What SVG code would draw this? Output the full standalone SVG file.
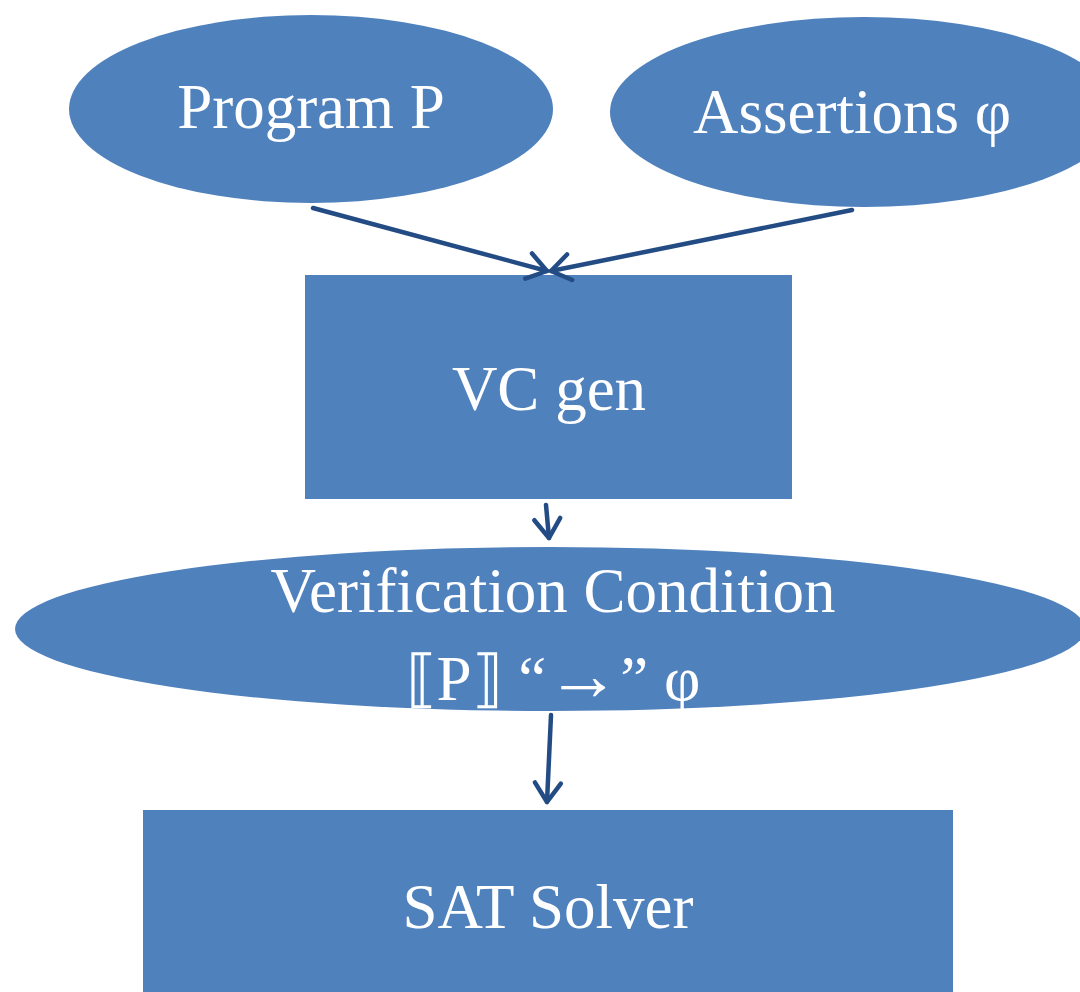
<svg xmlns="http://www.w3.org/2000/svg" width="1080" height="992" viewBox="0 0 1080 992">
  <style>
    .shape { fill: #4F81BD; }
    .label { fill: #FFFFFF; font-family: "Liberation Serif", "DejaVu Serif", serif; font-size: 63px; text-anchor: middle; }
    .edge { stroke: #244C84; stroke-width: 4.5; fill: none; stroke-linecap: round; }
  </style>
  <defs>
    <marker id="chevron" markerUnits="userSpaceOnUse" viewBox="-24 -18 28 36" markerWidth="28" markerHeight="36" refX="0" refY="0" orient="auto">
      <path d="M -19 -13 L 0 0 L -19 13" fill="none" stroke="#244C84" stroke-width="4.5" stroke-linecap="round" stroke-linejoin="round"/>
    </marker>
  </defs>
  <rect width="1080" height="992" fill="#FFFFFF"/>

  <g id="program">
    <ellipse class="shape" cx="311" cy="109" rx="242" ry="94"/>
    <text class="label" x="311" y="128">Program P</text>
  </g>

  <g id="assertions">
    <ellipse class="shape" cx="864" cy="112" rx="254" ry="95"/>
    <text class="label" x="852" y="133">Assertions φ</text>
  </g>

  <g id="vcgen">
    <rect class="shape" x="305" y="275" width="487" height="224"/>
    <text class="label" x="549" y="410">VC gen</text>
  </g>

  <g id="condition">
    <ellipse class="shape" cx="550" cy="629" rx="535" ry="82"/>
    <text class="label" x="553" y="612">Verification Condition</text>
    <text class="label" x="553" y="700">⟦P⟧ “<tspan font-size="74px">→</tspan>” φ</text>
  </g>

  <g id="solver">
    <rect class="shape" x="143" y="810" width="810" height="190"/>
    <text class="label" x="548" y="928">SAT Solver</text>
  </g>

  <g id="connectors">
    <line class="edge" x1="313" y1="208" x2="547" y2="271" marker-end="url(#chevron)"/>
    <line class="edge" x1="852" y1="210" x2="551" y2="271" marker-end="url(#chevron)"/>
    <line class="edge" x1="546" y1="505" x2="549" y2="538" marker-end="url(#chevron)"/>
    <line class="edge" x1="551" y1="715" x2="547" y2="802" marker-end="url(#chevron)"/>
  </g>
</svg>
